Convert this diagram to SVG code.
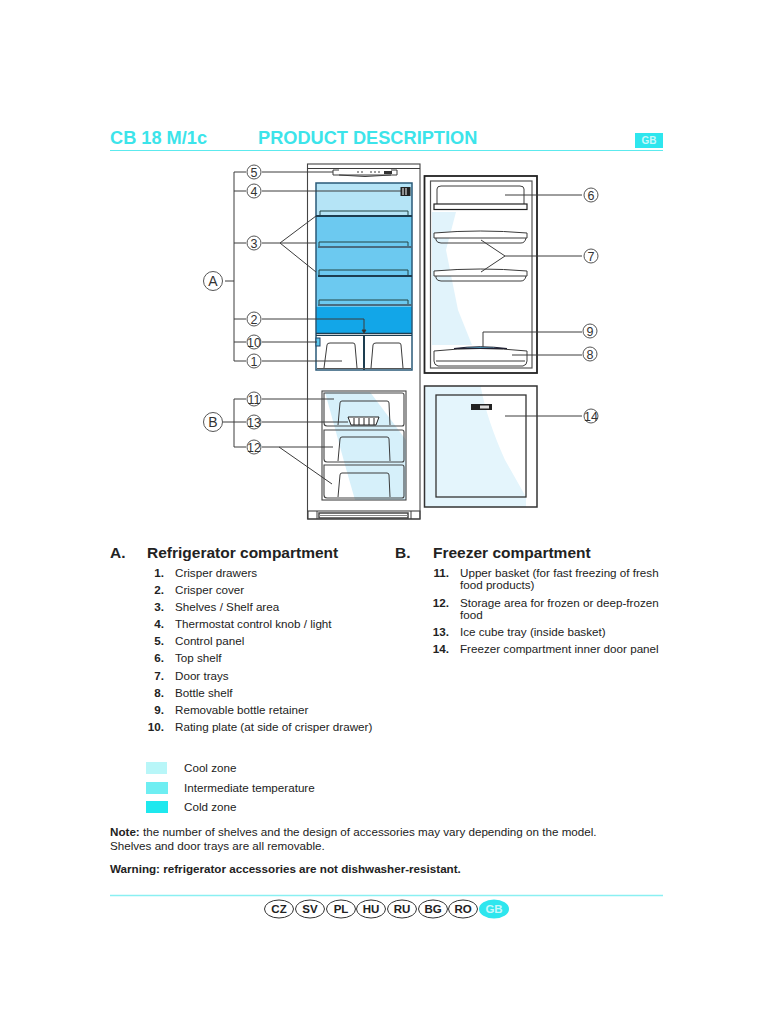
<svg xmlns="http://www.w3.org/2000/svg" width="768" height="1024" viewBox="0 0 768 1024">
<style>
text{font-family:"Liberation Sans",Arial,sans-serif;fill:#222}
.l{fill:none;stroke:#3c3c3c;stroke-width:1}
.f{fill:none;stroke:#444;stroke-width:1.100}
.c{fill:#fff;stroke:#555;stroke-width:1}
.n{font-size:12.5px;text-anchor:middle;fill:#333}
.t{font-size:11.65px}
.b{font-size:11.65px;font-weight:bold;text-anchor:end}
.h{font-size:15.500px;font-weight:bold}
.tl{font-size:18.200px;font-weight:bold;fill:#3ce4ea}
.o{fill:#fff;stroke:#333;stroke-width:1}
.ot{font-size:11.500px;font-weight:bold;text-anchor:middle}
</style>
<rect width="768" height="1024" fill="#fff"/>
<g id="header">
<text class="tl" x="110" y="144">CB 18 M/1c</text>
<text class="tl" x="258" y="144">PRODUCT DESCRIPTION</text>
<rect x="635" y="133" width="28" height="15" fill="#2ee6ee"/>
<text x="649" y="144" font-size="10" font-weight="bold" text-anchor="middle" style="fill:#c8f8fa">GB</text>
<line x1="110" y1="150.500" x2="663" y2="150.500" stroke="#5ceaee" stroke-width="1.200"/>
</g>
<g id="fridge">
<rect class="f" x="307.500" y="164" width="112.500" height="355" fill="#fff"/>
<line class="l" x1="307.500" y1="168.500" x2="420" y2="168.500"/>
<path class="l" d="M333 170V175H397V170M333 170H339M391 170H397M339 175Q365 178 391 175"/>
<rect x="384" y="171" width="8" height="3" fill="#333"/>
<path class="l" d="M357 172h8M370 172h10" stroke-dasharray="2 2"/>
<rect x="316" y="183" width="96" height="33" fill="#b5e4f6"/>
<rect x="316" y="216" width="96" height="91" fill="#6cc9f0"/>
<rect x="316" y="307" width="96" height="26" fill="#12a6e8"/>
<rect x="316" y="333" width="96" height="37" fill="#fff"/>
<rect x="316" y="183" width="96" height="187" fill="none" stroke="#2a5a78" stroke-width="1.500"/>
<rect x="400.500" y="187" width="10" height="9" fill="#222"/>
<path d="M403 188v7M406 188v7" stroke="#fff" stroke-width="1"/>
<g fill="none" stroke="#244" stroke-width="1">
<path d="M320 216V211H408V216"/>
<path d="M319 247V242H408V247"/>
<path d="M319 276V270H408V276"/>
<path d="M319 305V300H408V305"/>
</g>
<g stroke="#1d3d50">
<line x1="316" y1="216" x2="412" y2="216" stroke-width="1.800"/>
<line x1="318" y1="247" x2="412" y2="247" stroke-width="2.200" stroke="#4a6c80"/>
<line x1="318" y1="276" x2="412" y2="276" stroke-width="1.800"/>
<line x1="318" y1="305" x2="412" y2="305" stroke-width="2.200" stroke="#4a6c80"/>
<line x1="316" y1="333.500" x2="412" y2="333.500" stroke-width="1.500"/>
<line x1="364" y1="335" x2="364" y2="370" stroke-width="2"/>
<line x1="316" y1="335.500" x2="412" y2="335.500" stroke-width="1"/>
</g>
<rect x="316" y="338" width="4" height="8" fill="#5cc8ee" stroke="#246" stroke-width="1"/>
<g class="l">
<path d="M324 368L327 345Q327 343 330 343H353Q355 343 355 345L357 368"/>
<path d="M371 368L373 345Q373 343 376 343H399Q401 343 401 345L403 368"/>
</g>
<line x1="317" y1="368.500" x2="411" y2="368.500" stroke="#555" stroke-width="1"/>
<rect x="322" y="391" width="84" height="109" fill="#fff"/>
<path d="M325 392H370L406 440V500H355L345 465Z" fill="#d6f0fa"/>
<rect class="f" x="322" y="391" width="84" height="109"/>
<g class="f">
<path d="M324 393H402Q404 393 404 395V424Q404 426 402 426H327Q324 426 324 423Z"/>
<path d="M324 430H402Q404 430 404 432V460Q404 462 402 462H327Q324 462 324 459Z"/>
<path d="M324 465H402Q404 465 404 467V496Q404 498 402 498H327Q324 498 324 495Z"/>
</g>
<g class="l">
<path d="M338 425L340 403Q340 401 342 401H387Q389 401 389 403L390 425"/>
<path d="M338 461L340 439Q340 437 342 437H387Q389 437 389 439L390 461"/>
<path d="M338 497L340 475Q340 473 342 473H387Q389 473 389 475L390 497"/>
</g>
<path d="M348 417H379L376 425H351Z" fill="#fff" stroke="#222" stroke-width="1"/>
<path d="M354 418v7M359 418v7M364 418v7M369 418v7M374 418v7" stroke="#222" stroke-width="1"/>
<rect class="f" x="308" y="511" width="112" height="8"/>
<path class="l" d="M317 511V519M411 511V519"/>
<rect x="319" y="513" width="89" height="5" fill="none" stroke="#444" stroke-width="1.500"/>
<line x1="319" y1="515.500" x2="408" y2="515.500" stroke="#888" stroke-width="1"/>
</g>
<g id="fridge-door">
<rect x="430" y="181" width="102" height="187" fill="#fff"/>
<path d="M432 212H456L446 250L458 310L472 345H432Z" fill="#e1f3fb"/>
<rect x="424.500" y="176" width="112.500" height="197" fill="none" stroke="#222" stroke-width="1.800"/>
<rect x="430.500" y="181" width="101.500" height="187" fill="none" stroke="#555" stroke-width="1.200"/>
<path class="l" d="M437 204V189Q437 186 441 186H520Q524 186 524 189V204"/>
<rect x="434" y="204" width="93" height="5.500" fill="#fff" stroke="#222" stroke-width="1.200"/>
<g class="l">
<path d="M434 233Q480 229 527 233V238H434Z" fill="#fff"/>
<path d="M436 238V240Q437 243 441 243H521Q525 243 526 238"/>
<path d="M434 271Q480 267 527 271V276H434Z" fill="#fff"/>
<path d="M436 276V278Q437 281 441 281H521Q525 281 526 276"/>
<path d="M434 351Q480 346 527 351V361Q527 365 523 366H438Q434 365 434 361Z" fill="#fff"/>
<path d="M436 361H525"/>
</g>
<path d="M454 348.500Q480 345 507 348.500Z" fill="#5ab4d8" stroke="#223" stroke-width="1"/>
</g>
<g id="freezer-door">
<path d="M424 386H481V388Q487 420 505 460L526 497V507H424Z" fill="#e4f5fc"/>
<rect x="424.500" y="386" width="112.500" height="121" fill="none" stroke="#333" stroke-width="1.500"/>
<rect x="436" y="395" width="90" height="102" fill="none" stroke="#333" stroke-width="1.300"/>
<rect x="471" y="404" width="21" height="6" fill="#222"/>
<rect x="480" y="405.500" width="9" height="3" fill="#ddd"/>
</g>
<g id="connectors" class="l">
<path class="l" d="M234 172V361M234 172H246M234 191H246M234 243H246M234 319H246M234 342H246M234 361H246M225 281H234"/>
<path class="l" d="M262 172H333M262 191H401M262 243H316M280 243L316 216M280 243L316 272"/>
<path class="l" d="M262 319H364V331M262 342H317M262 361H342"/>
<path d="M362 330H366L364 333Z" fill="#222"/>
<path class="l" d="M234 399V447M234 399H246M234 447H246M223 422H246"/>
<path class="l" d="M262 399H334M262 422H348M262 447H333M279 447L332 484"/>
<path class="l" d="M505 195H582M505 256L481 240M505 256L481 272M505 256H582"/>
<path class="l" d="M483 347V332H582M512 355H582"/>
<path class="l" d="M505 416H582"/>
</g>
<g id="callouts">
<g id="n5"><circle class="c" cx="254" cy="172" r="7"/><text class="n" x="254" y="176.500">5</text></g>
<g id="n4"><circle class="c" cx="254" cy="191" r="7"/><text class="n" x="254" y="195.500">4</text></g>
<g id="n3"><circle class="c" cx="254" cy="243" r="7"/><text class="n" x="254" y="247.500">3</text></g>
<g id="n2"><circle class="c" cx="254" cy="319" r="7"/><text class="n" x="254" y="323.500">2</text></g>
<g id="n10"><circle class="c" cx="254" cy="342" r="7"/><text class="n" x="254" y="346.500">10</text></g>
<g id="n1"><circle class="c" cx="254" cy="361" r="7"/><text class="n" x="254" y="365.500">1</text></g>
<g id="nA"><circle class="c" cx="213" cy="281" r="9.500"/><text class="n" x="213" y="286" style="font-size:14px">A</text></g>
<g id="n11"><circle class="c" cx="254" cy="399" r="7"/><text class="n" x="254" y="403.500">11</text></g>
<g id="n13"><circle class="c" cx="254" cy="422" r="7"/><text class="n" x="254" y="426.500">13</text></g>
<g id="n12"><circle class="c" cx="254" cy="447" r="7"/><text class="n" x="254" y="451.500">12</text></g>
<g id="nB"><circle class="c" cx="213" cy="422" r="9.500"/><text class="n" x="213" y="427" style="font-size:14px">B</text></g>
<g id="n6"><circle class="c" cx="591" cy="195" r="7"/><text class="n" x="591" y="199.500">6</text></g>
<g id="n7"><circle class="c" cx="591" cy="256" r="7"/><text class="n" x="591" y="260.500">7</text></g>
<g id="n9"><circle class="c" cx="590" cy="331" r="7"/><text class="n" x="590" y="335.500">9</text></g>
<g id="n8"><circle class="c" cx="590" cy="354" r="7"/><text class="n" x="590" y="358.500">8</text></g>
<g id="n14"><circle class="c" cx="591" cy="416" r="7"/><text class="n" x="591" y="420.500">14</text></g>
</g>
<g id="legend-a">
<text class="h" x="110" y="558">A.</text><text class="h" x="147" y="558">Refrigerator compartment</text>
<text class="b" x="164" y="577">1.</text><text class="t" x="175" y="577">Crisper drawers</text>
<text class="b" x="164" y="594">2.</text><text class="t" x="175" y="594">Crisper cover</text>
<text class="b" x="164" y="611">3.</text><text class="t" x="175" y="611">Shelves / Shelf area</text>
<text class="b" x="164" y="628">4.</text><text class="t" x="175" y="628">Thermostat control knob / light</text>
<text class="b" x="164" y="645">5.</text><text class="t" x="175" y="645">Control panel</text>
<text class="b" x="164" y="662">6.</text><text class="t" x="175" y="662">Top shelf</text>
<text class="b" x="164" y="680">7.</text><text class="t" x="175" y="680">Door trays</text>
<text class="b" x="164" y="697">8.</text><text class="t" x="175" y="697">Bottle shelf</text>
<text class="b" x="164" y="714">9.</text><text class="t" x="175" y="714">Removable bottle retainer</text>
<text class="b" x="164" y="731">10.</text><text class="t" x="175" y="731">Rating plate (at side of crisper drawer)</text>
</g>
<g id="legend-b">
<text class="h" x="395" y="558">B.</text><text class="h" x="433" y="558">Freezer compartment</text>
<text class="b" x="449" y="577">11.</text><text class="t" x="460" y="577">Upper basket (for fast freezing of fresh</text><text class="t" x="460" y="589">food products)</text>
<text class="b" x="449" y="607">12.</text><text class="t" x="460" y="607">Storage area for frozen or deep-frozen</text><text class="t" x="460" y="619">food</text>
<text class="b" x="449" y="636">13.</text><text class="t" x="460" y="636">Ice cube tray (inside basket)</text>
<text class="b" x="449" y="653">14.</text><text class="t" x="460" y="653">Freezer compartment inner door panel</text>
</g>
<g id="zones">
<rect x="146" y="762" width="21" height="12" fill="#b8f6f8"/><text class="t" x="184" y="772">Cool zone</text>
<rect x="146" y="782" width="22" height="12" fill="#6eeef2"/><text class="t" x="184" y="792">Intermediate temperature</text>
<rect x="146" y="801" width="22" height="12" fill="#1ee8ee"/><text class="t" x="184" y="811">Cold zone</text>
</g>
<g id="notes">
<text class="t" x="110" y="836"><tspan font-weight="bold">Note:</tspan> the number of shelves and the design of accessories may vary depending on the model.</text>
<text class="t" x="110" y="850">Shelves and door trays are all removable.</text>
<text class="t" x="110" y="873" font-weight="bold">Warning: refrigerator accessories are not dishwasher-resistant.</text>
</g>
<g id="footer">
<line x1="110" y1="895.500" x2="663" y2="895.500" stroke="#8af0f2" stroke-width="1.500"/>
<g id="lCZ"><ellipse class="o" cx="279" cy="909" rx="14.500" ry="9"/><text class="ot" x="279" y="913">CZ</text></g>
<g id="lSV"><ellipse class="o" cx="310" cy="909" rx="14.500" ry="9"/><text class="ot" x="310" y="913">SV</text></g>
<g id="lPL"><ellipse class="o" cx="341" cy="909" rx="14.500" ry="9"/><text class="ot" x="341" y="913">PL</text></g>
<g id="lHU"><ellipse class="o" cx="371" cy="909" rx="14.500" ry="9"/><text class="ot" x="371" y="913">HU</text></g>
<g id="lRU"><ellipse class="o" cx="402" cy="909" rx="14.500" ry="9"/><text class="ot" x="402" y="913">RU</text></g>
<g id="lBG"><ellipse class="o" cx="433" cy="909" rx="14.500" ry="9"/><text class="ot" x="433" y="913">BG</text></g>
<g id="lRO"><ellipse class="o" cx="463" cy="909" rx="14.500" ry="9"/><text class="ot" x="463" y="913">RO</text></g>
<g id="lGB"><ellipse cx="494" cy="909" rx="15" ry="9.500" fill="#2ee6ee"/><text class="ot" x="494" y="913" style="fill:#c8f8fa">GB</text></g>
</g>
</svg>
